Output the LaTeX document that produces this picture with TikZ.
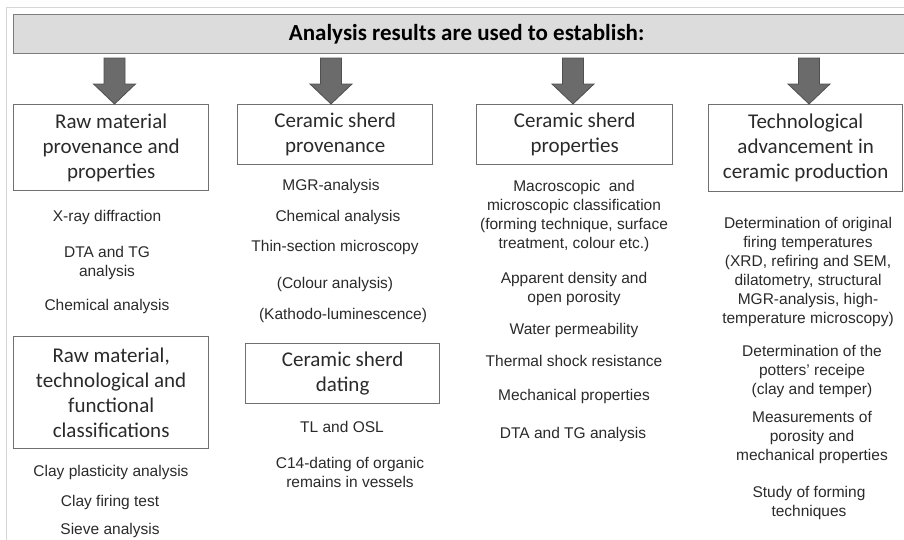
\documentclass[tikz,border=0pt]{standalone}
\usepackage{fontspec}
\setmainfont{Liberation Sans}
\newfontfamily\calib{Carlito}
\usetikzlibrary{positioning,calc}

\definecolor{framegray}{HTML}{D6D6D6}
\definecolor{bannerfill}{HTML}{DCDCDC}
\definecolor{bannerline}{HTML}{7C7C7C}
\definecolor{arrowfill}{HTML}{6B6B6B}
\definecolor{arrowline}{HTML}{505050}
\definecolor{boxline}{HTML}{707070}
\definecolor{inktext}{HTML}{2A2A2A}

\begin{document}
\begin{tikzpicture}[x=1pt, y=-1pt,
   banner/.style={draw=bannerline, fill=bannerfill, line width=1.2pt, inner sep=0pt,
      font=\calib\bfseries\fontsize{23}{27}\selectfont, text=black},
   head/.style={draw=boxline, line width=1.3pt, inner sep=0pt, align=center,
      font=\calib\fontsize{21}{25}\selectfont, text=inktext},
   item/.style={inner sep=0pt, align=center, font=\fontsize{15.5}{19}\selectfont, text=inktext},
   fatarrow/.style={draw=arrowline, fill=arrowfill, line width=0.8pt,
      to path={let \p1=(\tikztostart), \p2=(\tikztotarget) in
         (\x1-10.5pt,\y1) -- (\x1+10.5pt,\y1) -- (\x1+10.5pt,\y2+20pt) -- (\x1+21pt,\y2+20pt)
         -- (\x1,\y2) -- (\x1-21pt,\y2+20pt) -- (\x1-10.5pt,\y2+20pt) -- cycle}}]
   \useasboundingbox (0,0) rectangle (904,539);
   \clip (0,0) rectangle (904,539);
   \draw[framegray, line width=1pt] (6,7) rectangle (930,560);

   % top banner
   \node[banner, minimum width=906, minimum height=39, anchor=north west] (top) at (13,14) {Analysis results are used to establish:};

   % headings
   \node[head, minimum width=195, minimum height=86, anchor=north west] (raw) at (13,104) {Raw material\\provenance and\\properties};
   \node[head, minimum width=195, minimum height=60, anchor=north west] (prov) at (237,104) {Ceramic sherd\\provenance};
   \node[head, minimum width=196, minimum height=60, anchor=north west] (prop) at (476,104) {Ceramic sherd\\properties};
   \node[head, minimum width=194, minimum height=87, anchor=north west] (tech) at (708,104) {Technological\\advancement in\\ceramic production};
   \node[head, minimum width=195, minimum height=112, anchor=north west] (class) at (13,336) {Raw material,\\technological and\\functional\\classifications};
   \node[head, minimum width=194, minimum height=60, anchor=north west] (date) at (245,343) {Ceramic sherd\\dating};

   % block arrows
   \coordinate (a1) at (114.5,58);
   \coordinate (a2) at (331,58);
   \coordinate (a3) at (573,58);
   \coordinate (a4) at (809,58);
   \draw[fatarrow] (a1) to (a1 |- raw.north);
   \draw[fatarrow] (a2) to (a2 |- prov.north);
   \draw[fatarrow] (a3) to (a3 |- prop.north);
   \draw[fatarrow] (a4) to (a4 |- tech.north);

   % column 1
   \node[item] (xrd) at (107,217) {X-ray diffraction};
   \node[item] (dta1) at (107,263) {DTA and TG\\analysis};
   \node[item] (chem1) at (107,306) {Chemical analysis};
   \node[item] (plast) at (111,472) {Clay plasticity analysis};
   \node[item] (fire) at (110,502) {Clay firing test};
   \node[item] (sieve) at (110,530) {Sieve analysis};

   % column 2
   \node[item] (mgr) at (331,186) {MGR-analysis};
   \node[item] (chem2) at (338,217) {Chemical analysis};
   \node[item] (thin) at (335,247) {Thin-section microscopy};
   \node[item] (colour) at (335,284) {(Colour analysis)};
   \node[item] (katho) at (343,315) {(Kathodo-luminescence)};
   \node[item] (tl) at (342,427) {TL and OSL};
   \node[item] (c14) at (350,472.5) {C14-dating of organic\\remains in vessels};

   % column 3
   \node[item] (macro) at (574,215.5) {Macroscopic~ and\\microscopic classification\\(forming technique, surface\\treatment, colour etc.)};
   \node[item] (dens) at (574,288.5) {Apparent density and\\open porosity};
   \node[item] (water) at (574,330) {Water permeability};
   \node[item] (shock) at (574,361) {Thermal shock resistance};
   \node[item] (mech) at (574,396) {Mechanical properties};
   \node[item] (dta3) at (573,434) {DTA and TG analysis};

   % column 4
   \node[item] (firing) at (808,272) {Determination of original\\firing temperatures\\(XRD, refiring and SEM,\\dilatometry, structural\\MGR-analysis, high-\\temperature microscopy)};
   \node[item] (recipe) at (812,371) {Determination of the\\potters' receipe\\(clay and temper)};
   \node[item] (poro) at (812,437) {Measurements of\\porosity and\\mechanical properties};
   \node[item] (form) at (809,503) {Study of forming\\techniques};
\end{tikzpicture}
\end{document}
